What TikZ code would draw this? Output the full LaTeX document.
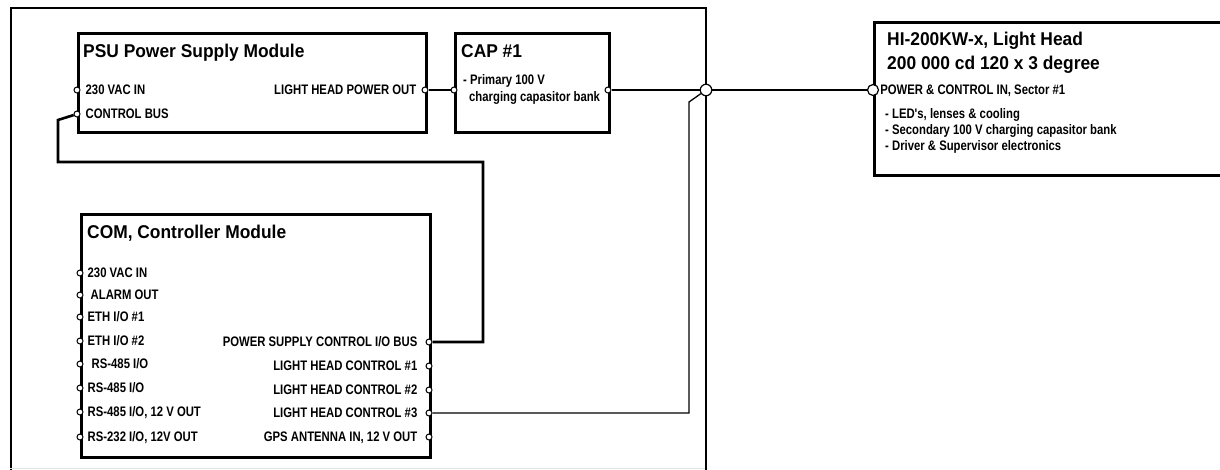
\documentclass[tikz,border=0pt]{standalone}
\usepackage{fontspec}
\setmainfont{Liberation Sans}
\newfontfamily\titlefnt[FakeStretch=0.94]{Liberation Sans}
\newfontfamily\portfnt[FakeStretch=0.82, Ligatures=TeXOff]{Liberation Sans}
\usetikzlibrary{positioning}

\tikzset{
    module/.style={draw, line width=2.6pt, anchor=north west, inner sep=0pt},
    frame/.style={draw, line width=2pt, anchor=north west, inner sep=0pt},
    port/.style={circle, draw, fill=white, line width=1pt, minimum size=6pt, inner sep=0pt},
    bigport/.style={port, line width=1.2pt, minimum size=11.5pt},
    modtitle/.style={font=\titlefnt\bfseries\fontsize{18.5}{25}\selectfont, anchor=base west, inner sep=0pt},
    portlbl/.style={font=\portfnt\bfseries\fontsize{13.8}{16}\selectfont, inner sep=0pt, text height=9.8pt, text depth=0pt},
    bodytxt/.style={font=\portfnt\bfseries\fontsize{13.8}{16}\selectfont, anchor=base west, inner sep=0pt},
    thickwire/.style={line width=2.6pt},
    thinwire/.style={line width=1.1pt}
}

\begin{document}
\begin{tikzpicture}[x=1pt, y=-1pt]
        \useasboundingbox (0,0) rectangle (1220,469);

        % draw the cabinet frame
        \node[frame, minimum width=695pt, minimum height=480pt] (cab) at (10,7) {};
        \draw[gray!20, line width=1pt] (10,468) -- (705,468);

        % draw the modules
        \node[module, minimum width=348pt, minimum height=99pt] (psu) at (77,32) {};
        \node[module, minimum width=154pt, minimum height=99pt] (cap) at (454,32) {};
        \node[module, minimum width=349pt, minimum height=243pt] (com) at (80,213) {};
        \node[module, minimum width=362pt, minimum height=153pt] (lh) at (873,21) {};

        % draw the module titles
        \node[modtitle] (psuT) at ([shift={(6,25)}]psu.north west) {PSU Power Supply Module};
        \node[modtitle] (capT) at ([shift={(7,25)}]cap.north west) {CAP \#1};
        \node[modtitle] (comT) at ([shift={(7,25)}]com.north west) {COM, Controller Module};
        \node[modtitle] (lhT1) at ([shift={(14,24)}]lh.north west) {HI-200KW-x, Light Head};
        \node[modtitle] (lhT2) at ([shift={(14,48)}]lh.north west) {200 000 cd 120 x 3 degree};

        % draw the PSU ports
        \node[port] (psuAC) at (77,90) {};
        \node[portlbl, right=5pt of psuAC] {230 VAC IN};
        \node[port] (psuBus) at (77,114) {};
        \node[portlbl, right=5pt of psuBus] {CONTROL BUS};
        \node[port] (psuOut) at (425,90) {};
        \node[portlbl, left=5pt of psuOut] {LIGHT HEAD POWER OUT};

        % draw the capacitor bank ports and text
        \node[port] (capIn) at (454,90) {};
        \node[port] (capOut) at (608,90) {};
        \node[bodytxt] (capL1) at ([shift={(9,52)}]cap.north west) {- Primary 100 V};
        \node[bodytxt] (capL2) at ([shift={(15,69)}]cap.north west) {charging capasitor bank};

        % draw the COM ports on the left side
        \node[port] (comAC) at (80,273) {};
        \node[portlbl, right=4pt of comAC] {230 VAC IN};
        \node[port] (comAlarm) at (80,295) {};
        \node[portlbl, right=7pt of comAlarm] {ALARM OUT};
        \node[port] (comEth1) at (80,317) {};
        \node[portlbl, right=4pt of comEth1] {ETH I/O \#1};
        \node[port] (comEth2) at (80,341) {};
        \node[portlbl, right=4pt of comEth2] {ETH I/O \#2};
        \node[port] (comRsA) at (80,364) {};
        \node[portlbl, right=8pt of comRsA] {RS-485 I/O};
        \node[port] (comRsB) at (80,388) {};
        \node[portlbl, right=4pt of comRsB] {RS-485 I/O};
        \node[port] (comRsC) at (80,412) {};
        \node[portlbl, right=4pt of comRsC] {RS-485 I/O, 12 V OUT};
        \node[port] (comRsD) at (80,437) {};
        \node[portlbl, right=4pt of comRsD] {RS-232 I/O, 12V OUT};

        % draw the COM ports on the right side
        \node[port] (comPS) at (429,342) {};
        \node[portlbl, left=8pt of comPS] {POWER SUPPLY CONTROL I/O BUS};
        \node[port] (comLH1) at (429,366) {};
        \node[portlbl, left=8pt of comLH1] {LIGHT HEAD CONTROL \#1};
        \node[port] (comLH2) at (429,390) {};
        \node[portlbl, left=8pt of comLH2] {LIGHT HEAD CONTROL \#2};
        \node[port] (comLH3) at (429,413) {};
        \node[portlbl, left=8pt of comLH3] {LIGHT HEAD CONTROL \#3};
        \node[port] (comGPS) at (429,437) {};
        \node[portlbl, left=8pt of comGPS] {GPS ANTENNA IN, 12 V OUT};

        % draw the light head input and text
        \node[bigport, minimum size=11pt] (lhIn) at (873,90) {};
        \node[portlbl, right=1pt of lhIn] {POWER \& CONTROL IN, Sector \#1};
        \node[bodytxt] (lhL1) at ([shift={(12,97)}]lh.north west) {- LED's, lenses \& cooling};
        \node[bodytxt] (lhL2) at ([shift={(12,113)}]lh.north west) {- Secondary 100 V charging capasitor bank};
        \node[bodytxt] (lhL3) at ([shift={(12,129)}]lh.north west) {- Driver \& Supervisor electronics};

        % draw the junction on the cabinet wall
        \node[bigport] (junc) at (706,90) {};

        % draw the bend points of the cables
        \coordinate (busA) at (58,120);
        \coordinate (busB) at (58,162);
        \coordinate (busC) at (483,162);
        \coordinate (busD) at (483,342);
        \coordinate (ctlA) at (689,413);
        \coordinate (ctlB) at (689,102);

        % draw the power line through the capacitor bank
        \draw[thinwire] (psuOut) -- (capIn);
        \draw[thinwire] (capOut) -- (junc);
        \draw[thickwire] (junc) -- (lhIn);

        % draw the control bus between COM and PSU
        \draw[thickwire] (psuBus) -- (busA) -- (busB) -- (busC) -- (busD) -- (comPS);

        % draw the light head control line
        \draw[thinwire, line width=1.3pt] (comLH3) -- (ctlA) -- (ctlB) -- (junc);
    \end{tikzpicture}
\end{document}
